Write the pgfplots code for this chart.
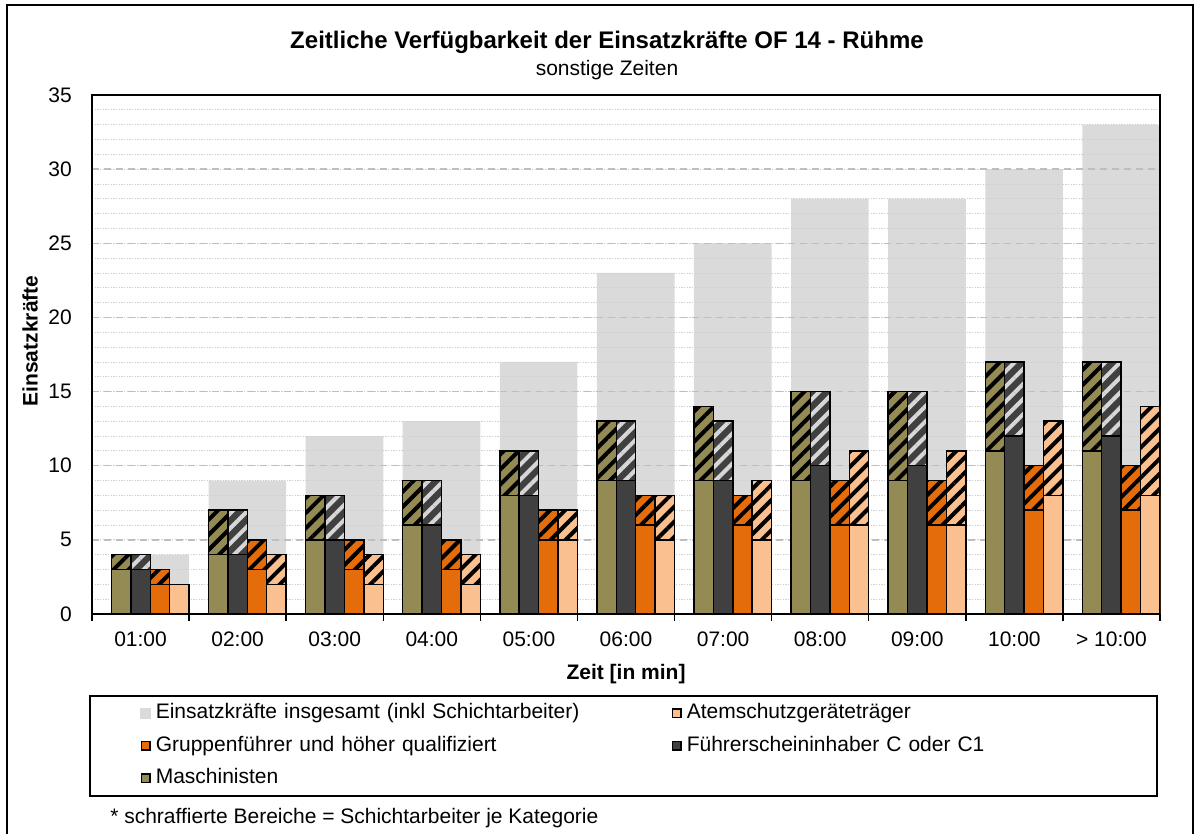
\documentclass[border=0pt]{standalone}
\usepackage{fontspec}
\setmainfont{Liberation Sans}
\usepackage{pgfplots}
\pgfplotsset{compat=1.18}
\usepackage{pgfplotstable}
\usetikzlibrary{patterns.meta}

\definecolor{totgrey}{RGB}{218,218,218}
\definecolor{olivec}{RGB}{148,138,84}
\definecolor{darkc}{RGB}{64,64,64}
\definecolor{orangec}{RGB}{228,108,10}
\definecolor{peachc}{RGB}{250,192,144}
\definecolor{hatchlight}{RGB}{215,215,215}
\definecolor{gridmajor}{RGB}{190,190,190}
\definecolor{gridminor}{RGB}{208,208,208}

\newcommand\chartfont{\fontsize{15.75pt}{18pt}\selectfont}
\newcommand\titlefont{\fontsize{18pt}{21pt}\selectfont\bfseries}

\pgfplotstableread{
x total mS mT fS fT gS gT aS aT
0 4 3 4 3 4 2 3 2 2
1 9 4 7 4 7 3 5 2 4
2 12 5 8 5 8 3 5 2 4
3 13 6 9 6 9 3 5 2 4
4 17 8 11 8 11 5 7 5 7
5 23 9 13 9 13 6 8 5 8
6 25 9 14 9 13 6 8 5 9
7 28 9 15 10 15 6 9 6 11
8 28 9 15 10 15 6 9 6 11
9 30 11 17 12 17 7 10 8 13
10 33 11 17 12 17 7 10 8 14
}\datatable

\tikzset{
  hatch/.style={pattern={Lines[angle=45,distance=8pt,line width=3pt]}, pattern color=#1},
  pxscope/.style={x=0.75pt,y=-0.75pt,shift={(-69pt,460.5pt)}},
}
\pgfplotsset{barbase/.style={ybar, bar width=14.5636pt, draw=black, line width=1.1pt, forget plot}}

\begin{document}
\begin{tikzpicture}
\begin{scope}[pxscope]
  \useasboundingbox (0,0) rectangle (1198,834);
  \draw[line width=1.1pt] (7,845) -- (7,5) -- (1193,5) -- (1193,845);
  \node[anchor=base, font=\titlefont, inner sep=0pt] at (607,49) {Zeitliche Verfügbarkeit der Einsatzkräfte OF 14 - Rühme};
  \node[anchor=base, font=\chartfont, inner sep=0pt] at (607,76) {sonstige Zeiten};
  \draw[line width=1.1pt] (90,696) rectangle (1157,796);
  \node[anchor=base west, font=\chartfont, inner sep=0pt] at (110,823) {* schraffierte Bereiche = Schichtarbeiter je Kategorie};
\end{scope}

\begin{axis}[
  at={(0pt,0pt)}, anchor=south west,
  scale only axis, width=801pt, height=389.25pt,
  xmin=-0.5, xmax=10.5, ymin=0, ymax=35,
  set layers,
  axis line style={black, line width=1.1pt},
  tick align=outside,
  major tick length=0pt,
  minor tick length=5.25pt,
  xtick pos=left, ytick pos=left,
  xtick={0,...,10},
  xticklabels={01:00,02:00,03:00,04:00,05:00,06:00,07:00,08:00,09:00,10:00,> 10:00},
  minor xtick={-0.5,0.5,...,10.5},
  ytick={0,5,...,35},
  minor ytick={0,1,...,35},
  ymajorgrids, yminorgrids,
  major grid style={gridmajor, line width=1.1pt, dash pattern=on 5pt off 4pt},
  minor grid style={gridminor, line width=0.6pt, dash pattern=on 1pt off 1pt},
  ytick style={draw=none},
  xtick style={black, line width=1.1pt},
  /pgf/number format/assume math mode=true,
  xticklabel style={anchor=base, yshift=-24.75pt, inner sep=0pt, font=\chartfont},
  yticklabel style={anchor=east, inner sep=0pt, xshift=-15pt, font=\chartfont},
  xlabel={Zeit [in min]}, ylabel={Einsatzkräfte},
  every axis x label/.style={at={(axis description cs:0.5,-0.12524)}, anchor=base, font=\chartfont\bfseries},
  every axis y label/.style={at={(axis description cs:-0.05103,0.526)}, rotate=90, anchor=base, font=\chartfont\bfseries},
  legend columns=2,
  legend cell align=left,
  legend style={at={(axis description cs:0.04494,-0.15944)}, anchor=north west, draw=none, fill=none,
    inner sep=0pt, column sep=0pt, row sep=0pt, font=\chartfont,
    nodes={inner xsep=3.75pt, inner ysep=0pt, minimum height=24.375pt, text height=11.5pt, text depth=3.5pt},
    /tikz/column 2/.style={nodes={text width=383.25pt}},
    /tikz/column 4/.style={nodes={text width=310pt}}},
]
% total (background)
\addplot[ybar, bar width=58.2545pt, bar shift=7.2818pt, fill=totgrey, draw=none, forget plot, on layer=axis background]
  table[x=x,y=total]{\datatable};
% Maschinisten
\addplot[barbase, bar shift=-14.5636pt, preaction={fill=olivec}, hatch=black] table[x=x,y=mT]{\datatable};
\addplot[barbase, bar shift=-14.5636pt, fill=olivec] table[x=x,y=mS]{\datatable};
% Fuehrerschein
\addplot[barbase, bar shift=0pt, preaction={fill=darkc}, hatch=hatchlight] table[x=x,y=fT]{\datatable};
\addplot[barbase, bar shift=0pt, fill=darkc] table[x=x,y=fS]{\datatable};
% Gruppenfuehrer
\addplot[barbase, bar shift=14.5636pt, preaction={fill=orangec}, hatch=black] table[x=x,y=gT]{\datatable};
\addplot[barbase, bar shift=14.5636pt, fill=orangec] table[x=x,y=gS]{\datatable};
% Atemschutz
\addplot[barbase, bar shift=29.1273pt, preaction={fill=peachc}, hatch=black] table[x=x,y=aT]{\datatable};
\addplot[barbase, bar shift=29.1273pt, fill=peachc] table[x=x,y=aS]{\datatable};

\addlegendimage{legend image code/.code={\fill[totgrey] (0pt,-3.75pt) rectangle (7.5pt,3.75pt);}}
\addlegendentry{Einsatzkräfte insgesamt (inkl Schichtarbeiter)}
\addlegendimage{legend image code/.code={\draw[fill=peachc, line width=1.1pt] (0.55pt,-3.2pt) rectangle (6.95pt,3.2pt);}}
\addlegendentry{Atemschutzgeräteträger}
\addlegendimage{legend image code/.code={\draw[fill=orangec, line width=1.1pt] (0.55pt,-3.2pt) rectangle (6.95pt,3.2pt);}}
\addlegendentry{Gruppenführer und höher qualifiziert}
\addlegendimage{legend image code/.code={\draw[fill=darkc, line width=1.1pt] (0.55pt,-3.2pt) rectangle (6.95pt,3.2pt);}}
\addlegendentry{Führerscheininhaber C oder C1}
\addlegendimage{legend image code/.code={\draw[fill=olivec, line width=1.1pt] (0.55pt,-3.2pt) rectangle (6.95pt,3.2pt);}}
\addlegendentry{Maschinisten}
\end{axis}
\end{tikzpicture}
\end{document}
